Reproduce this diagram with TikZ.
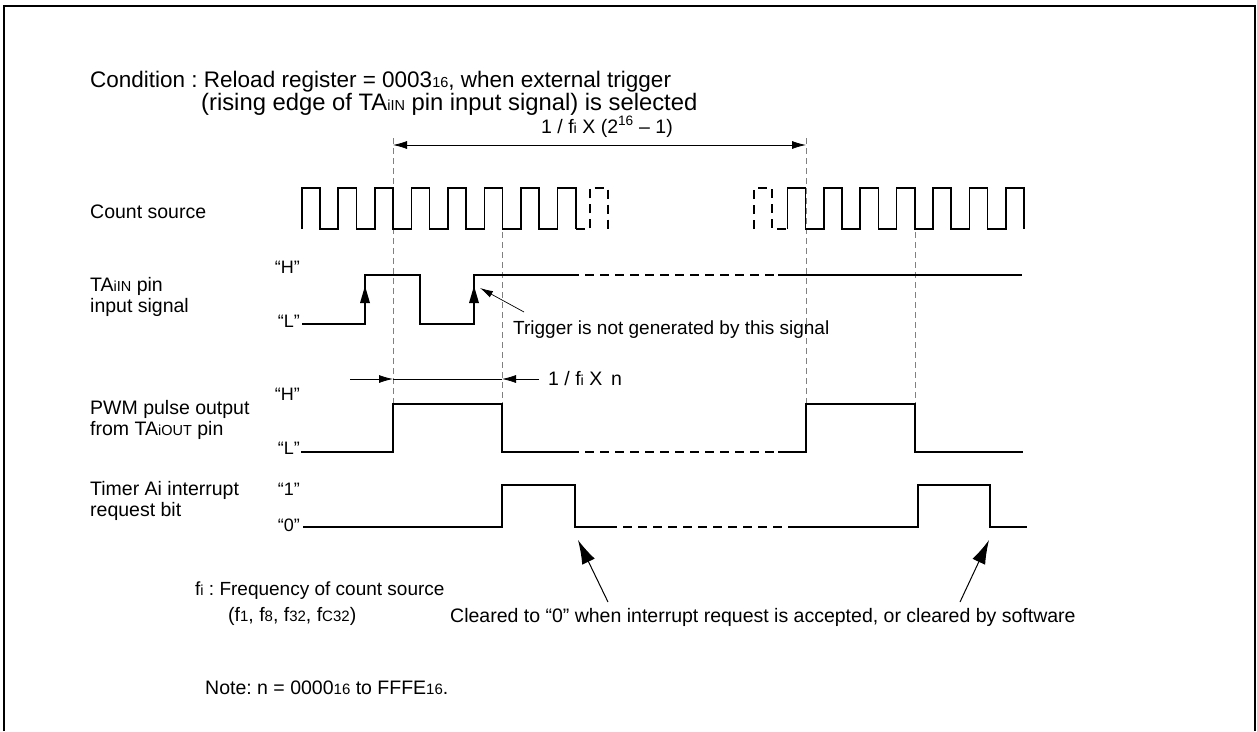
\documentclass[tikz,border=0pt]{standalone}
\usepackage{fontspec}
\setmainfont{Liberation Sans}
\usetikzlibrary{arrows.meta}
\newcommand\sm[1]{{\fontsize{14.5}{14.5}\selectfont #1}}
\newcommand\smb[1]{{\fontsize{15}{15}\selectfont #1}}
\frenchspacing
\begin{document}
\begin{tikzpicture}[x=1pt,y=-1pt,
  wave/.style={line width=1.6pt, line join=miter},
  wavedash/.style={wave, dash pattern=on 9pt off 6pt},
  guide/.style={gray, line width=0.8pt, dash pattern=on 6pt off 4pt},
  lbl/.style={font=\fontsize{19.5}{20.5}\selectfont, inner sep=0pt, anchor=west, align=left},
  ttl/.style={font=\fontsize{22.5}{23}\selectfont, inner sep=0pt, anchor=base west},
  lvl/.style={font=\fontsize{18}{18}\selectfont, inner sep=0pt, anchor=east},
  dim/.style={line width=0.8pt},
  tip/.style={-{Latex[length=14pt,width=8pt]}},
  bigtip/.style={line width=1pt, -{Latex[length=24pt,width=14pt]}}
]
\useasboundingbox (0,0) rectangle (1257,731);
% frame
\draw[line width=2.5pt] (4,731) -- (4,6) -- (1255,6) -- (1255,731);

% title
\node[ttl] (t1) at (90,87) {Condition : Reload register = 0003\sm{16}, when external trigger};
\node[ttl, font=\fontsize{23.8}{24}\selectfont] (t2) at (201,110) {(rising edge of TA\sm{iIN} pin input signal) is selected};

% guides
\draw[guide] (393,138) -- (393,404);
\draw[guide] (806,138) -- (806,404);
\draw[guide] (502,232) -- (502,404);
\draw[guide] (915,232) -- (915,404);

% top dimension
\coordinate (dl) at (393,145);
\coordinate (dr) at (806,145);
\draw[dim, {Latex[length=14pt,width=8pt]}-{Latex[length=14pt,width=8pt]}] (dl) -- (dr);
\node[ttl, font=\fontsize{19.5}{20}\selectfont] (dimlbl) at (541,133) {1 / f\sm{i} X (2\textsuperscript{16} – 1)};

% count source
\node[lbl] (cs) at (90,212) {Count source};
\draw[wave] (301.7,229) \foreach \k in {1,...,7} {-- ++(0,-41) -- ++(18.27,0) -- ++(0,41) -- ++(18.27,0)} -- ++(0,-41) -- ++(18.27,0) -- ++(0,41);
\draw[wavedash] (575.7,229) -- (590,229) -- (590,188) -- (608,188) -- (608,229);
\draw[wavedash] (754,229) -- (754,188) -- (772,188) -- (772,229) -- (787.3,229);
\draw[wave] (787.3,229) \foreach \k in {1,...,6} {-- ++(0,-41) -- ++(18.21,0) -- ++(0,41) -- ++(18.21,0)} -- ++(0,-41) -- ++(18.21,0) -- ++(0,41);

% TAiIN
\node[lbl] (tin) at (90,297) {TA\sm{iIN} pin\\input signal};
\node[lvl] (tinH) at (300,267) {“H”};
\node[lvl] (tinL) at (300,321) {“L”};
\draw[wave] (302,324) -- (365,324) -- (365,275) -- (420,275) -- (420,324) -- (474,324) -- (474,275) -- (570,275);
\draw[wavedash] (570,275) -- (778,275);
\draw[wave] (778,275) -- (1022,275);
\fill (365,286) -- (360,303) -- (370,303) -- cycle;
\fill (474,286) -- (469,303) -- (479,303) -- cycle;
\node[lbl, anchor=base west, font=\fontsize{19}{20}\selectfont] (trig) at (513,334) {Trigger is not generated by this signal};
\coordinate (trigA) at (524,312);
\coordinate (trigB) at (480,288);
\draw[line width=0.7pt, -{Latex[length=13pt,width=7pt]}] (trigA) -- (trigB);

% bottom dimension
\coordinate (nl0) at (350,379);
\coordinate (nl) at (393,379);
\coordinate (nr) at (502,379);
\coordinate (nr0) at (539,379);
\draw[dim, tip] (nl0) -- (nl);
\draw[dim] (nl) -- (nr);
\draw[dim, tip] (nr0) -- (nr);
\node[lbl] (nlbl) at (548,379) {1 / f\sm{i} X\, n};

% PWM
\node[lbl] (pwm) at (90,420) {PWM pulse output\\from TA\sm{iOUT} pin};
\node[lvl] (pwmH) at (300,394) {“H”};
\node[lvl] (pwmL) at (300,448) {“L”};
\draw[wave] (301,452) -- (393,452) -- (393,404) -- (502,404) -- (502,452) -- (570,452);
\draw[wavedash] (570,452) -- (778,452);
\draw[wave] (778,452) -- (806,452) -- (806,404) -- (915,404) -- (915,452) -- (1023,452);

% Timer Ai
\node[lbl] (tmr) at (90,501) {Timer Ai interrupt\\request bit};
\node[lvl] (tmr1) at (300,489) {“1”};
\node[lvl] (tmr0) at (300,525) {“0”};
\draw[wave] (303,527) -- (502,527) -- (502,485) -- (575,485) -- (575,527) -- (608,527);
\draw[wavedash] (608,527) -- (790,527);
\draw[wave] (790,527) -- (918,527) -- (918,485) -- (990,485) -- (990,527) -- (1027,527);

% clear arrows
\coordinate (c1a) at (608,602);
\coordinate (c1b) at (578,540);
\coordinate (c2a) at (960,602);
\coordinate (c2b) at (989,540);
\draw[bigtip] (c1a) -- (c1b);
\draw[bigtip] (c2a) -- (c2b);
\node[lbl] (clr) at (450,617) {Cleared to “0” when interrupt request is accepted, or cleared by software};

% notes
\node[lbl, font=\fontsize{19}{20}\selectfont] (fi) at (195,591) {f\sm{i} : Frequency of count source};
\node[lbl] (fl) at (228,616) {(f\smb{1}, f\smb{8}, f\smb{32}, f\smb{C32})};
\node[lbl] (note) at (205,688) {Note: n = 0000\smb{16} to FFFE\smb{16}.};
\end{tikzpicture}
\end{document}
